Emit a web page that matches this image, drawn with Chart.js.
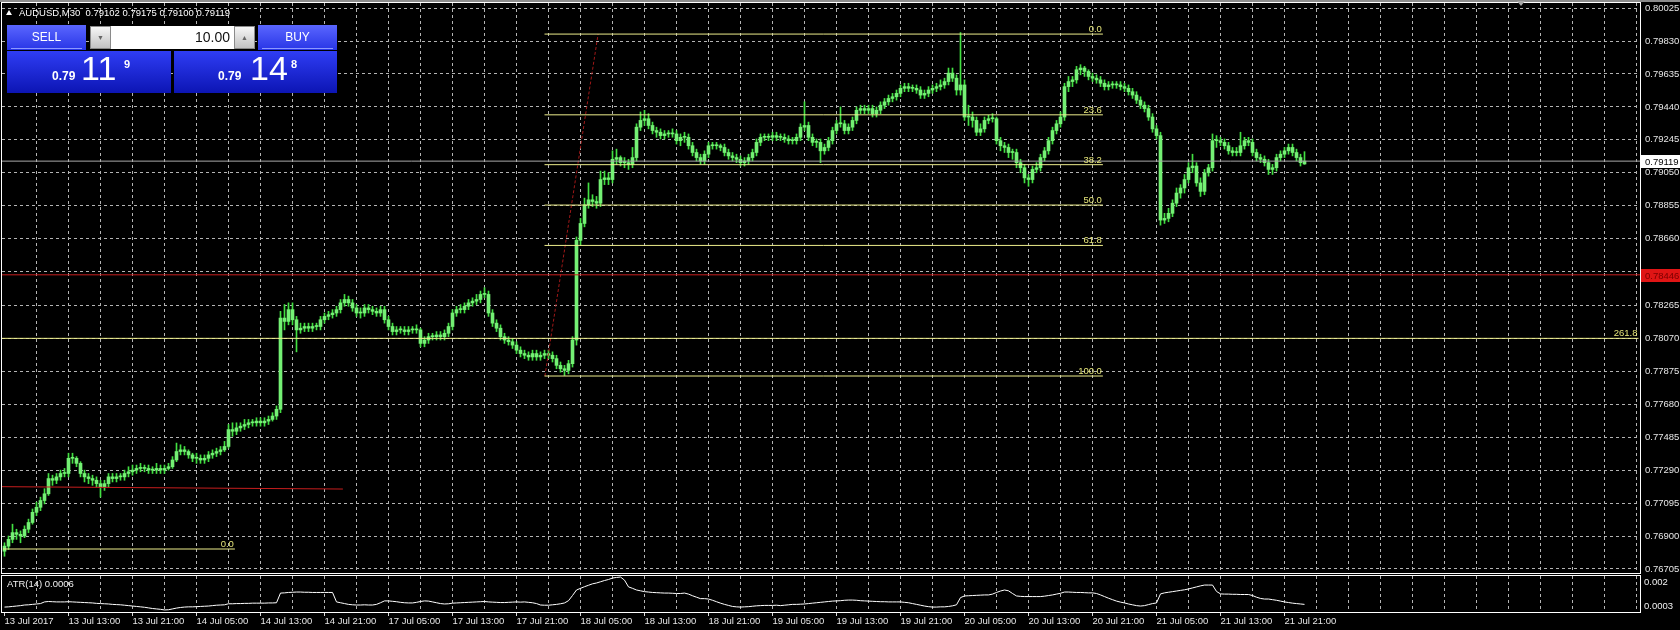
<!DOCTYPE html>
<html>
<head>
<meta charset="utf-8">
<script src="https://cdn.jsdelivr.net/npm/chart.js@4.4.1/dist/chart.umd.min.js"></script>
<style>
  body { margin: 0; background: #000; width: 1680px; height: 630px; overflow: hidden; position: relative;
         font-family: 'Liberation Sans', Arial, sans-serif; }
  canvas { position: absolute; left: 0; }
  .abs { position: absolute; white-space: pre; }
  #topbar { left: 0; top: 0; width: 1680px; height: 2px; background: #8c8c8c; }
  #shift { left: 1517px; top: 1px; width: 0; height: 0; border-left: 4px solid transparent;
           border-right: 4px solid transparent; border-top: 5px solid #a8a8a8; }
  #tri { left: 6px; top: 10px; width: 0; height: 0; border-left: 3.5px solid transparent;
         border-right: 3.5px solid transparent; border-bottom: 5px solid #fff; }
  #header { left: 19px; top: 6px; color: #fff; font-size: 9.5px; line-height: 14px; }
  .btn { top: 25px; width: 79px; height: 25px; color: #fff; font-size: 12px; line-height: 24px; text-align: center;
         background: linear-gradient(#5a66ff, #2835e6); }
  .btn:after { content: ''; position: absolute; left: 4px; right: 4px; bottom: 1px; height: 1px; background: #8d98ff; }
  .spin { top: 26px; width: 21px; height: 23px; box-sizing: border-box; border: 1px solid #8a8a8a;
          background: linear-gradient(#f6f6f6, #c2c2c2); color: #666; font-size: 7px; line-height: 21px; text-align: center; }
  #lots { left: 111px; top: 26px; width: 123px; height: 23px; box-sizing: border-box; background: #fff; color: #111;
          font-size: 14px; line-height: 23px; text-align: right; padding-right: 4px; }
  .quote { top: 51px; height: 42px; background: linear-gradient(#2f3df4, #0c15b4); }
  .q1 { color: #fff; font-size: 12px; font-weight: bold; line-height: 12px; top: 70px; }
  .q2 { color: #fff; font-size: 34px; line-height: 34px; top: 51px; }
  .q3 { color: #fff; font-size: 11px; font-weight: bold; line-height: 11px; top: 59px; }
  .lbl { color: #f0f0f0; font-size: 9.5px; line-height: 14px; }
</style>
</head>
<body>
<canvas id="main" width="1680" height="576" style="top:0"></canvas>
<canvas id="atr" width="1680" height="56" style="top:574px"></canvas>

<div id="topbar" class="abs"></div>
<div id="shift" class="abs"></div>
<div id="tri" class="abs"></div>
<div id="header" class="abs"></div>

<div id="sell" class="abs btn" style="left:7px">SELL</div>
<div id="dn" class="abs spin" style="left:90px">&#9660;</div>
<div id="lots" class="abs">10.00</div>
<div id="up" class="abs spin" style="left:234px">&#9650;</div>
<div id="buy" class="abs btn" style="left:258px">BUY</div>
<div class="abs quote" style="left:7px;width:164px"></div>
<div class="abs quote" style="left:174px;width:163px"></div>
<div class="abs q1" style="left:52px">0.79</div>
<div class="abs q2" style="left:81px">11</div>
<div class="abs q3" style="left:124px">9</div>
<div class="abs q1" style="left:218px">0.79</div>
<div class="abs q2" style="left:250px">14</div>
<div class="abs q3" style="left:291px">8</div>

<div id="atrName" class="abs lbl" style="left:7px;top:577px"></div>
<div class="abs lbl" style="left:1644px;top:575px">0.002</div>
<div class="abs lbl" style="left:1644px;top:599px">0.0003</div>

<script>
Chart.defaults.font.family = "'Liberation Sans', Arial, sans-serif";
Chart.defaults.font.size = 9.5;
Chart.defaults.color = "#e6e6e6";

var symbol = "AUDUSD,M30";

// one label every 16 bars (8 hours), bar 0 = 13 Jul 05:00
var timeLabels = ["13 Jul 2017", "13 Jul 13:00", "13 Jul 21:00", "14 Jul 05:00", "14 Jul 13:00", "14 Jul 21:00",
  "17 Jul 05:00", "17 Jul 13:00", "17 Jul 21:00", "18 Jul 05:00", "18 Jul 13:00", "18 Jul 21:00",
  "19 Jul 05:00", "19 Jul 13:00", "19 Jul 21:00", "20 Jul 05:00", "20 Jul 13:00", "20 Jul 21:00",
  "21 Jul 05:00", "21 Jul 13:00", "21 Jul 21:00"];

var priceTicks = [0.80025, 0.79830, 0.79635, 0.79440, 0.79245, 0.79050, 0.78855, 0.78660, 0.78465,
  0.78265, 0.78070, 0.77875, 0.77680, 0.77485, 0.77290, 0.77095, 0.76900, 0.76705];

var opens = [
  0.7681,0.7684,0.7688,0.7692,0.7691,0.7690,0.7694,0.7698,0.7704,0.7707,0.7711,0.7715,0.7724,0.7723,0.7725,0.7727,
  0.7727,0.7736,0.7736,0.7733,0.7727,0.7725,0.7724,0.7723,0.7721,0.7719,0.7721,0.7725,0.7724,0.7725,0.7725,0.7727,
  0.7728,0.7729,0.7730,0.7730,0.7730,0.7729,0.7729,0.7730,0.7729,0.7730,0.7731,0.7735,0.7740,0.7741,0.7740,0.7738,
  0.7736,0.7736,0.7735,0.7736,0.7738,0.7739,0.7740,0.7741,0.7743,0.7753,0.7752,0.7754,0.7755,0.7756,0.7757,0.7757,
  0.7758,0.7757,0.7758,0.7759,0.7761,0.7765,0.7819,0.7817,0.7824,0.7818,0.7812,0.7813,0.7814,0.7813,0.7814,0.7814,
  0.7818,0.7820,0.7821,0.7822,0.7824,0.7828,0.7830,0.7828,0.7825,0.7822,0.7822,0.7825,0.7824,0.7823,0.7822,0.7824,
  0.7818,0.7814,0.7811,0.7812,0.7812,0.7811,0.7812,0.7812,0.7812,0.7804,0.7806,0.7808,0.7808,0.7809,0.7808,0.7810,
  0.7814,0.7822,0.7824,0.7824,0.7826,0.7828,0.7829,0.7830,0.7833,0.7833,0.7822,0.7816,0.7813,0.7808,0.7806,0.7805,
  0.7803,0.7800,0.7798,0.7797,0.7796,0.7798,0.7796,0.7797,0.7798,0.7797,0.7795,0.7791,0.7789,0.7788,0.7792,0.7806,
  0.7865,0.7875,0.7886,0.7889,0.7888,0.7887,0.7901,0.7902,0.7901,0.7913,0.7914,0.7911,0.7911,0.7910,0.7914,0.7932,
  0.7936,0.7937,0.7933,0.7930,0.7929,0.7927,0.7928,0.7928,0.7928,0.7924,0.7926,0.7926,0.7921,0.7917,0.7914,0.7912,
  0.7916,0.7921,0.7921,0.7921,0.7920,0.7917,0.7915,0.7914,0.7913,0.7911,0.7912,0.7914,0.7917,0.7923,0.7926,0.7926,
  0.7926,0.7927,0.7926,0.7926,0.7925,0.7924,0.7924,0.7926,0.7932,0.7933,0.7926,0.7923,0.7923,0.7918,0.7920,0.7924,
  0.7930,0.7934,0.7934,0.7930,0.7932,0.7936,0.7942,0.7943,0.7942,0.7943,0.7940,0.7942,0.7945,0.7947,0.7949,0.7950,
  0.7952,0.7955,0.7956,0.7955,0.7955,0.7954,0.7951,0.7952,0.7954,0.7955,0.7956,0.7957,0.7959,0.7964,0.7961,0.7954,
  0.7957,0.7938,0.7938,0.7936,0.7929,0.7931,0.7936,0.7937,0.7937,0.7924,0.7921,0.7920,0.7917,0.7917,0.7911,0.7908,
  0.7902,0.7901,0.7907,0.7908,0.7914,0.7918,0.7924,0.7930,0.7934,0.7938,0.7956,0.7959,0.7960,0.7966,0.7967,0.7965,
  0.7962,0.7961,0.7960,0.7958,0.7956,0.7957,0.7957,0.7957,0.7956,0.7955,0.7953,0.7951,0.7948,0.7945,0.7943,0.7938,
  0.7931,0.7927,0.7877,0.7878,0.7881,0.7887,0.7893,0.7896,0.7901,0.7908,0.7909,0.7899,0.7894,0.7905,0.7908,0.7924,
  0.7924,0.7923,0.7921,0.7918,0.7917,0.7917,0.7921,0.7924,0.7923,0.7917,0.7914,0.7913,0.7911,0.7907,0.7908,0.7914,
  0.7916,0.7918,0.7920,0.7917,0.7914,0.79102];

var highs = [
  0.7686,0.7690,0.7697,0.7694,0.7693,0.7696,0.7700,0.7706,0.7710,0.7713,0.7718,0.7727,0.7726,0.7727,0.7729,0.7730,
  0.7739,0.7739,0.7737,0.7734,0.7729,0.7727,0.7726,0.7725,0.7723,0.7723,0.7727,0.7727,0.7727,0.7727,0.7729,0.7731,
  0.7732,0.7732,0.7733,0.7732,0.7732,0.7731,0.7733,0.7732,0.7732,0.7733,0.7737,0.7745,0.7744,0.7743,0.7741,0.7739,
  0.7739,0.7738,0.7738,0.7740,0.7741,0.7742,0.7743,0.7746,0.7756,0.7757,0.7757,0.7757,0.7759,0.7759,0.7759,0.7760,
  0.7760,0.7760,0.7761,0.7763,0.7767,0.7823,0.7827,0.7828,0.7828,0.7820,0.7816,0.7816,0.7816,0.7816,0.7816,0.7820,
  0.7822,0.7823,0.7824,0.7826,0.7830,0.7833,0.7832,0.7830,0.7827,0.7825,0.7827,0.7827,0.7826,0.7825,0.7826,0.7826,
  0.7820,0.7816,0.7814,0.7814,0.7814,0.7814,0.7814,0.7815,0.7813,0.7808,0.7810,0.7810,0.7811,0.7811,0.7812,0.7816,
  0.7824,0.7826,0.7827,0.7828,0.7830,0.7831,0.7833,0.7835,0.7837,0.7835,0.7824,0.7818,0.7815,0.7810,0.7808,0.7807,
  0.7805,0.7802,0.7800,0.7799,0.7800,0.7800,0.7799,0.7800,0.7800,0.7799,0.7797,0.7793,0.7791,0.7794,0.7808,0.7867,
  0.7878,0.7890,0.7899,0.7892,0.7891,0.7906,0.7906,0.7905,0.7918,0.7919,0.7915,0.7914,0.7913,0.7920,0.7934,0.7941,
  0.7942,0.7940,0.7935,0.7932,0.7931,0.7930,0.7930,0.7931,0.7930,0.7928,0.7929,0.7928,0.7923,0.7919,0.7916,0.7918,
  0.7923,0.7923,0.7923,0.7922,0.7922,0.7919,0.7917,0.7916,0.7915,0.7914,0.7916,0.7919,0.7925,0.7928,0.7928,0.7928,
  0.7929,0.7929,0.7928,0.7928,0.7927,0.7926,0.7928,0.7934,0.7947,0.7935,0.7928,0.7925,0.7925,0.7922,0.7926,0.7932,
  0.7936,0.7944,0.7936,0.7934,0.7938,0.7944,0.7945,0.7945,0.7945,0.7945,0.7944,0.7947,0.7949,0.7951,0.7952,0.7954,
  0.7957,0.7958,0.7958,0.7957,0.7957,0.7956,0.7954,0.7956,0.7957,0.7958,0.7960,0.7961,0.7967,0.7967,0.7963,0.7988,
  0.7960,0.7945,0.7941,0.7938,0.7934,0.7938,0.7939,0.7940,0.7938,0.7926,0.7923,0.7922,0.7919,0.7919,0.7913,0.7910,
  0.7904,0.7909,0.7911,0.7916,0.7920,0.7926,0.7932,0.7936,0.7941,0.7958,0.7962,0.7962,0.7968,0.7969,0.7968,0.7966,
  0.7964,0.7963,0.7962,0.7960,0.7959,0.7959,0.7959,0.7959,0.7958,0.7957,0.7955,0.7953,0.7950,0.7947,0.7945,0.7940,
  0.7933,0.7929,0.7881,0.7884,0.7889,0.7896,0.7898,0.7904,0.7911,0.7916,0.7911,0.7902,0.7907,0.7910,0.7928,0.7927,
  0.7926,0.7925,0.7923,0.7920,0.7920,0.7929,0.7926,0.7926,0.7925,0.7919,0.7916,0.7915,0.7913,0.7910,0.7916,0.7918,
  0.7920,0.7922,0.7922,0.7919,0.7916,0.79175];

var lows = [
  0.7678,0.7682,0.7686,0.7688,0.7686,0.7689,0.7692,0.7697,0.7702,0.7705,0.7709,0.7714,0.7720,0.7721,0.7723,0.7725,
  0.7725,0.7733,0.7731,0.7725,0.7722,0.7721,0.7720,0.7719,0.7713,0.7717,0.7719,0.7722,0.7722,0.7723,0.7723,0.7725,
  0.7726,0.7727,0.7728,0.7728,0.7727,0.7727,0.7727,0.7727,0.7727,0.7729,0.7730,0.7734,0.7738,0.7738,0.7736,0.7734,
  0.7733,0.7733,0.7733,0.7734,0.7736,0.7737,0.7738,0.7740,0.7742,0.7749,0.7750,0.7752,0.7753,0.7754,0.7755,0.7755,
  0.7755,0.7755,0.7756,0.7758,0.7759,0.7763,0.7812,0.7815,0.7815,0.7799,0.7810,0.7811,0.7811,0.7811,0.7812,0.7812,
  0.7816,0.7818,0.7819,0.7820,0.7822,0.7826,0.7826,0.7823,0.7820,0.7819,0.7820,0.7822,0.7821,0.7820,0.7820,0.7816,
  0.7812,0.7809,0.7809,0.7810,0.7809,0.7809,0.7810,0.7810,0.7802,0.7802,0.7804,0.7806,0.7806,0.7806,0.7806,0.7808,
  0.7812,0.7820,0.7822,0.7822,0.7824,0.7826,0.7827,0.7828,0.7831,0.7820,0.7814,0.7811,0.7806,0.7804,0.7803,0.7801,
  0.7798,0.7796,0.7795,0.7794,0.7794,0.7794,0.7794,0.7795,0.7795,0.7793,0.7789,0.7787,0.7785,0.7786,0.7790,0.7803,
  0.7862,0.7873,0.7884,0.7885,0.7884,0.7885,0.7898,0.7898,0.7899,0.7910,0.7909,0.7908,0.7907,0.7908,0.7912,0.7930,
  0.7933,0.7931,0.7928,0.7926,0.7925,0.7925,0.7926,0.7926,0.7922,0.7921,0.7923,0.7919,0.7915,0.7912,0.7910,0.7910,
  0.7914,0.7919,0.7919,0.7918,0.7915,0.7913,0.7912,0.7911,0.7909,0.7909,0.7910,0.7912,0.7915,0.7921,0.7924,0.7924,
  0.7924,0.7924,0.7924,0.7923,0.7922,0.7922,0.7922,0.7924,0.7930,0.7924,0.7921,0.7920,0.7911,0.7916,0.7918,0.7922,
  0.7928,0.7932,0.7928,0.7928,0.7930,0.7934,0.7940,0.7940,0.7940,0.7938,0.7938,0.7940,0.7943,0.7945,0.7947,0.7948,
  0.7950,0.7953,0.7953,0.7953,0.7952,0.7949,0.7949,0.7950,0.7952,0.7953,0.7954,0.7955,0.7957,0.7959,0.7951,0.7951,
  0.7936,0.7933,0.7932,0.7927,0.7927,0.7929,0.7934,0.7935,0.7922,0.7918,0.7917,0.7914,0.7913,0.7908,0.7905,0.7899,
  0.7897,0.7899,0.7905,0.7906,0.7912,0.7916,0.7922,0.7928,0.7932,0.7936,0.7953,0.7956,0.7958,0.7963,0.7962,0.7960,
  0.7959,0.7958,0.7956,0.7954,0.7954,0.7955,0.7955,0.7954,0.7953,0.7951,0.7949,0.7946,0.7943,0.7941,0.7936,0.7929,
  0.7925,0.7874,0.7875,0.7876,0.7879,0.7885,0.7890,0.7893,0.7899,0.7905,0.7897,0.7891,0.7892,0.7903,0.7906,0.7920,
  0.7921,0.7919,0.7916,0.7915,0.7915,0.7915,0.7919,0.7921,0.7915,0.7912,0.7911,0.7909,0.7904,0.7904,0.7906,0.7912,
  0.7914,0.7916,0.7915,0.7912,0.7909,0.79100];

var closes = [
  0.7684,0.7688,0.7692,0.7691,0.7690,0.7694,0.7698,0.7704,0.7707,0.7711,0.7715,0.7724,0.7723,0.7725,0.7727,0.7727,
  0.7736,0.7736,0.7733,0.7727,0.7725,0.7724,0.7723,0.7721,0.7719,0.7721,0.7725,0.7724,0.7725,0.7725,0.7727,0.7728,
  0.7729,0.7730,0.7730,0.7730,0.7729,0.7729,0.7730,0.7729,0.7730,0.7731,0.7735,0.7740,0.7741,0.7740,0.7738,0.7736,
  0.7736,0.7735,0.7736,0.7738,0.7739,0.7740,0.7741,0.7743,0.7753,0.7752,0.7754,0.7755,0.7756,0.7757,0.7757,0.7758,
  0.7757,0.7758,0.7759,0.7761,0.7765,0.7819,0.7817,0.7824,0.7818,0.7812,0.7813,0.7814,0.7813,0.7814,0.7814,0.7818,
  0.7820,0.7821,0.7822,0.7824,0.7828,0.7830,0.7828,0.7825,0.7822,0.7822,0.7825,0.7824,0.7823,0.7822,0.7824,0.7818,
  0.7814,0.7811,0.7812,0.7812,0.7811,0.7812,0.7812,0.7812,0.7804,0.7806,0.7808,0.7808,0.7809,0.7808,0.7810,0.7814,
  0.7822,0.7824,0.7824,0.7826,0.7828,0.7829,0.7830,0.7833,0.7833,0.7822,0.7816,0.7813,0.7808,0.7806,0.7805,0.7803,
  0.7800,0.7798,0.7797,0.7796,0.7798,0.7796,0.7797,0.7798,0.7797,0.7795,0.7791,0.7789,0.7788,0.7792,0.7806,0.7865,
  0.7875,0.7886,0.7889,0.7888,0.7887,0.7901,0.7902,0.7901,0.7913,0.7914,0.7911,0.7911,0.7910,0.7914,0.7932,0.7936,
  0.7937,0.7933,0.7930,0.7929,0.7927,0.7928,0.7928,0.7928,0.7924,0.7926,0.7926,0.7921,0.7917,0.7914,0.7912,0.7916,
  0.7921,0.7921,0.7921,0.7920,0.7917,0.7915,0.7914,0.7913,0.7911,0.7912,0.7914,0.7917,0.7923,0.7926,0.7926,0.7926,
  0.7927,0.7926,0.7926,0.7925,0.7924,0.7924,0.7926,0.7932,0.7933,0.7926,0.7923,0.7923,0.7918,0.7920,0.7924,0.7930,
  0.7934,0.7934,0.7930,0.7932,0.7936,0.7942,0.7943,0.7942,0.7943,0.7940,0.7942,0.7945,0.7947,0.7949,0.7950,0.7952,
  0.7955,0.7956,0.7955,0.7955,0.7954,0.7951,0.7952,0.7954,0.7955,0.7956,0.7957,0.7959,0.7964,0.7961,0.7954,0.7957,
  0.7938,0.7938,0.7936,0.7929,0.7931,0.7936,0.7937,0.7937,0.7924,0.7921,0.7920,0.7917,0.7917,0.7911,0.7908,0.7902,
  0.7901,0.7907,0.7908,0.7914,0.7918,0.7924,0.7930,0.7934,0.7938,0.7956,0.7959,0.7960,0.7966,0.7967,0.7965,0.7962,
  0.7961,0.7960,0.7958,0.7956,0.7957,0.7957,0.7957,0.7956,0.7955,0.7953,0.7951,0.7948,0.7945,0.7943,0.7938,0.7931,
  0.7927,0.7877,0.7878,0.7881,0.7887,0.7893,0.7896,0.7901,0.7908,0.7909,0.7899,0.7894,0.7905,0.7908,0.7924,0.7924,
  0.7923,0.7921,0.7918,0.7917,0.7917,0.7921,0.7924,0.7923,0.7917,0.7914,0.7913,0.7911,0.7907,0.7908,0.7914,0.7916,
  0.7918,0.7920,0.7917,0.7914,0.7911,0.79119];

var atrValues = [
  0.00049,0.00050,0.00052,0.00054,0.00056,0.00059,0.00060,0.00062,0.00064,0.00066,0.00074,0.00076,0.00075,0.00074,0.00074,0.00074,
  0.00075,0.00074,0.00073,0.00072,0.00071,0.00070,0.00069,0.00067,0.00066,0.00065,0.00064,0.00062,0.00061,0.00060,0.00058,0.00056,
  0.00054,0.00052,0.00050,0.00048,0.00045,0.00042,0.00040,0.00038,0.00035,0.00036,0.00040,0.00044,0.00047,0.00049,0.00050,0.00050,
  0.00051,0.00052,0.00053,0.00054,0.00056,0.00058,0.00059,0.00060,0.00065,0.00065,0.00066,0.00066,0.00067,0.00067,0.00068,0.00068,
  0.00068,0.00068,0.00069,0.00069,0.00070,0.00117,0.00118,0.00120,0.00121,0.00122,0.00122,0.00121,0.00121,0.00120,0.00120,0.00120,
  0.00120,0.00120,0.00120,0.00074,0.00070,0.00066,0.00062,0.00060,0.00059,0.00059,0.00060,0.00059,0.00059,0.00062,0.00070,0.00079,
  0.00079,0.00077,0.00075,0.00072,0.00070,0.00069,0.00069,0.00072,0.00076,0.00079,0.00078,0.00074,0.00070,0.00066,0.00064,0.00065,
  0.00068,0.00069,0.00070,0.00071,0.00072,0.00073,0.00074,0.00075,0.00076,0.00074,0.00073,0.00072,0.00071,0.00071,0.00072,0.00073,
  0.00074,0.00073,0.00074,0.00072,0.00070,0.00066,0.00059,0.00058,0.00058,0.00060,0.00062,0.00065,0.00069,0.00080,0.00105,0.00132,
  0.00140,0.00148,0.00155,0.00162,0.00166,0.00172,0.00178,0.00183,0.00190,0.00193,0.00195,0.00180,0.00147,0.00140,0.00132,0.00128,
  0.00124,0.00122,0.00120,0.00119,0.00118,0.00117,0.00117,0.00116,0.00115,0.00115,0.00117,0.00112,0.00104,0.00097,0.00090,0.00090,
  0.00088,0.00082,0.00075,0.00068,0.00062,0.00057,0.00052,0.00050,0.00049,0.00050,0.00051,0.00053,0.00055,0.00056,0.00057,0.00057,
  0.00057,0.00058,0.00056,0.00058,0.00060,0.00062,0.00062,0.00063,0.00064,0.00066,0.00068,0.00070,0.00072,0.00074,0.00076,0.00078,
  0.00079,0.00080,0.00082,0.00083,0.00083,0.00082,0.00080,0.00079,0.00078,0.00077,0.00076,0.00075,0.00075,0.00074,0.00074,0.00074,
  0.00074,0.00072,0.00070,0.00066,0.00062,0.00058,0.00054,0.00051,0.00049,0.00049,0.00050,0.00050,0.00052,0.00055,0.00060,0.00095,
  0.00103,0.00104,0.00105,0.00106,0.00107,0.00108,0.00108,0.00112,0.00120,0.00127,0.00132,0.00128,0.00115,0.00103,0.00101,0.00100,
  0.00100,0.00100,0.00100,0.00100,0.00102,0.00105,0.00108,0.00112,0.00116,0.00122,0.00122,0.00121,0.00120,0.00120,0.00119,0.00118,
  0.00118,0.00115,0.00108,0.00100,0.00092,0.00085,0.00078,0.00073,0.00069,0.00064,0.00060,0.00056,0.00054,0.00056,0.00061,0.00066,
  0.00069,0.00113,0.00118,0.00121,0.00124,0.00127,0.00130,0.00133,0.00137,0.00142,0.00147,0.00152,0.00156,0.00156,0.00156,0.00125,
  0.00113,0.00112,0.00112,0.00111,0.00111,0.00110,0.00110,0.00110,0.00105,0.00097,0.00091,0.00088,0.00088,0.00085,0.00082,0.00078,
  0.00074,0.00071,0.00068,0.00066,0.00064,0.00062];

// fibonacci retracement drawn on the 17-18 Jul swing
var fibLevels = ["0.0", "23.6", "38.2", "50.0", "61.8", "100.0"];
var fibPrices = [0.79871, 0.79393, 0.79098, 0.78859, 0.78620, 0.77847];
var fibSpan = [135, 274.6];
var fibAnchorBars = [135.1, 148.4];
var fibAnchorPrices = [0.77847, 0.79871];

// second fibonacci, only two of its levels are visible
var fib2Levels = ["0.0", "261.8"];
var fib2Prices = [0.76823, 0.78070];
var fib2Span = [[-0.4, 57.6], [-0.625, 408.5]];

var redLevel = 0.78446;
var redTrendBars = [-0.625, 84.6];
var redTrendPrices = [0.77192, 0.77178];

var last = closes.length - 1;
var bid = closes[last];

document.getElementById("header").textContent = symbol + "  " +
  [opens[last], highs[last], lows[last], closes[last]].map(function (v) { return v.toFixed(5); }).join(" ");
document.getElementById("atrName").textContent = "ATR(14) " + atrValues[last].toFixed(4);

var gridColor = "#b4b4b4";
var fibColor = "#eeee8c";
var xMin = -0.625, xMax = 408.875;

var bodies = [], wicks = [], atrPoints = [];
for (var i = 0; i < closes.length; i++) {
  bodies.push({ x: i, y: [opens[i], closes[i]] });
  wicks.push({ x: i, y: [lows[i], highs[i]] });
  atrPoints.push({ x: i, y: atrValues[i] });
}

function segment(x0, x1, y0, y1, color, dash) {
  return {
    type: "line",
    data: [{ x: x0, y: y0 }, { x: x1, y: y1 }],
    borderColor: color,
    borderWidth: 1,
    borderDash: dash || [],
    pointRadius: 0,
    order: 0,
  };
}

var lineSets = [];
fibPrices.forEach(function (p) {
  lineSets.push(segment(fibSpan[0], fibSpan[1], p, p, fibColor));
});
fib2Prices.forEach(function (p, k) {
  lineSets.push(segment(fib2Span[k][0], fib2Span[k][1], p, p, fibColor));
});
lineSets.push(segment(xMin, xMax, redLevel, redLevel, "#c81e1e"));
lineSets.push(segment(redTrendBars[0], redTrendBars[1], redTrendPrices[0], redTrendPrices[1], "#c81e1e"));
lineSets.push(segment(xMin, xMax, bid, bid, "#a8a8a8"));
lineSets.push(segment(fibAnchorBars[0], fibAnchorBars[1], fibAnchorPrices[0], fibAnchorPrices[1], "#a01818", [3, 2]));

var frame = {
  id: "frame",
  afterDraw: function (chart) {
    var a = chart.chartArea, ctx = chart.ctx;
    ctx.save();
    ctx.strokeStyle = "#ffffff";
    ctx.lineWidth = 1;
    ctx.strokeRect(a.left - 0.5, a.top - 0.5, a.right - a.left + 1, a.bottom - a.top + 1);
    ctx.restore();
  },
};

var levelLabels = {
  id: "levelLabels",
  afterDatasetsDraw: function (chart) {
    var x = chart.scales.x, y = chart.scales.y, ctx = chart.ctx;
    ctx.save();
    ctx.font = "9.5px 'Liberation Sans'";
    ctx.fillStyle = "#e6e67a";
    ctx.textAlign = "right";
    ctx.textBaseline = "alphabetic";
    fibLevels.forEach(function (t, k) {
      ctx.fillText(t, x.getPixelForValue(fibSpan[1]) - 1, y.getPixelForValue(fibPrices[k]) - 2);
    });
    fib2Levels.forEach(function (t, k) {
      ctx.fillText(t, x.getPixelForValue(fib2Span[k][1]) - 1, y.getPixelForValue(fib2Prices[k]) - 2);
    });
    ctx.restore();
  },
  afterDraw: function (chart) {
    var y = chart.scales.y, a = chart.chartArea, ctx = chart.ctx;
    var marks = [
      { v: bid, bg: "#ffffff", fg: "#000000" },
      { v: redLevel, bg: "#e01515", fg: "#7a0000" },
    ];
    ctx.save();
    ctx.font = "9.5px 'Liberation Sans'";
    ctx.textAlign = "left";
    ctx.textBaseline = "middle";
    marks.forEach(function (m) {
      var py = Math.round(y.getPixelForValue(m.v));
      ctx.fillStyle = "#000000";
      ctx.fillRect(a.right + 1, py - 8, 40, 16);
      ctx.fillStyle = m.bg;
      ctx.fillRect(a.right + 1, py - 6, 40, 13);
      ctx.fillStyle = m.fg;
      ctx.fillText(m.v.toFixed(5), a.right + 5, py + 1);
    });
    ctx.restore();
  },
};

new Chart("main", {
  type: "bar",
  data: {
    datasets: [
      {
        data: wicks,
        backgroundColor: "#42e042",
        grouped: false,
        barThickness: 1,
        maxBarThickness: 1,
        categoryPercentage: 1,
        barPercentage: 1,
        order: 2,
      },
      {
        data: bodies,
        backgroundColor: "#74f074",
        grouped: false,
        barThickness: 3,
        maxBarThickness: 3,
        categoryPercentage: 1,
        barPercentage: 1,
        minBarLength: 1,
        order: 1,
      },
    ].concat(lineSets),
  },
  options: {
    responsive: false,
    animation: false,
    devicePixelRatio: 1,
    events: [],
    layout: { padding: { left: 2, right: 0, top: 3, bottom: 3 } },
    plugins: { legend: { display: false }, tooltip: { enabled: false } },
    scales: {
      x: {
        type: "linear",
        min: xMin,
        max: xMax,
        offset: false,
        ticks: { display: false },
        grid: { color: gridColor, drawTicks: false, offset: false },
        border: { display: false, dash: [3, 3] },
        afterBuildTicks: function (s) {
          s.ticks = [];
          for (var k = 1; 8 * k <= xMax; k++) s.ticks.push({ value: 8 * k });
        },
        afterFit: function (s) {
          s.height = 0;
          s.paddingLeft = 0;
          s.paddingRight = 0;
        },
      },
      y: {
        type: "linear",
        position: "right",
        min: 0.76681,
        max: 0.80055,
        ticks: {
          autoSkip: false,
          padding: 5,
          color: "#e6e6e6",
          callback: function (v) { return v.toFixed(5); },
        },
        grid: { color: gridColor, drawTicks: false },
        border: { display: false, dash: [3, 3] },
        afterBuildTicks: function (s) {
          s.ticks = priceTicks.map(function (v) { return { value: v }; });
        },
        afterFit: function (s) {
          s.width = 40;
          s.paddingTop = 0;
          s.paddingBottom = 0;
        },
      },
    },
  },
  plugins: [frame, levelLabels],
});

new Chart("atr", {
  type: "line",
  data: {
    datasets: [
      {
        data: atrPoints,
        borderColor: "#ffffff",
        borderWidth: 1,
        pointRadius: 0,
        tension: 0,
      },
    ],
  },
  options: {
    responsive: false,
    animation: false,
    devicePixelRatio: 1,
    events: [],
    layout: { padding: { left: 2, right: 0, top: 2, bottom: 0 } },
    plugins: { legend: { display: false }, tooltip: { enabled: false } },
    scales: {
      x: {
        type: "linear",
        min: xMin,
        max: xMax,
        offset: false,
        ticks: {
          autoSkip: false,
          maxRotation: 0,
          minRotation: 0,
          align: "start",
          padding: 0,
          color: "#e6e6e6",
          callback: function (v) {
            return v % 16 === 0 && timeLabels[v / 16] ? timeLabels[v / 16] : "";
          },
        },
        grid: {
          offset: false,
          tickLength: 4,
          tickBorderDash: [],
          color: function (c) {
            return c.tick && c.tick.value === 0 ? "rgba(0,0,0,0)" : gridColor;
          },
          tickColor: function (c) {
            return c.tick && c.tick.value % 16 === 0 && timeLabels[c.tick.value / 16] ? "#d8d8d8" : "rgba(0,0,0,0)";
          },
        },
        border: { display: false, dash: [3, 3] },
        afterBuildTicks: function (s) {
          s.ticks = [];
          for (var k = 0; 8 * k <= xMax; k++) s.ticks.push({ value: 8 * k });
        },
        afterFit: function (s) {
          s.height = 18;
          s.paddingLeft = 0;
          s.paddingRight = 0;
        },
      },
      y: {
        type: "linear",
        position: "right",
        min: 0.00025,
        max: 0.002,
        ticks: { display: false },
        grid: { display: false },
        border: { display: false },
        afterFit: function (s) {
          s.width = 40;
          s.paddingTop = 0;
          s.paddingBottom = 0;
        },
      },
    },
  },
  plugins: [frame],
});
</script>
</body>
</html>
